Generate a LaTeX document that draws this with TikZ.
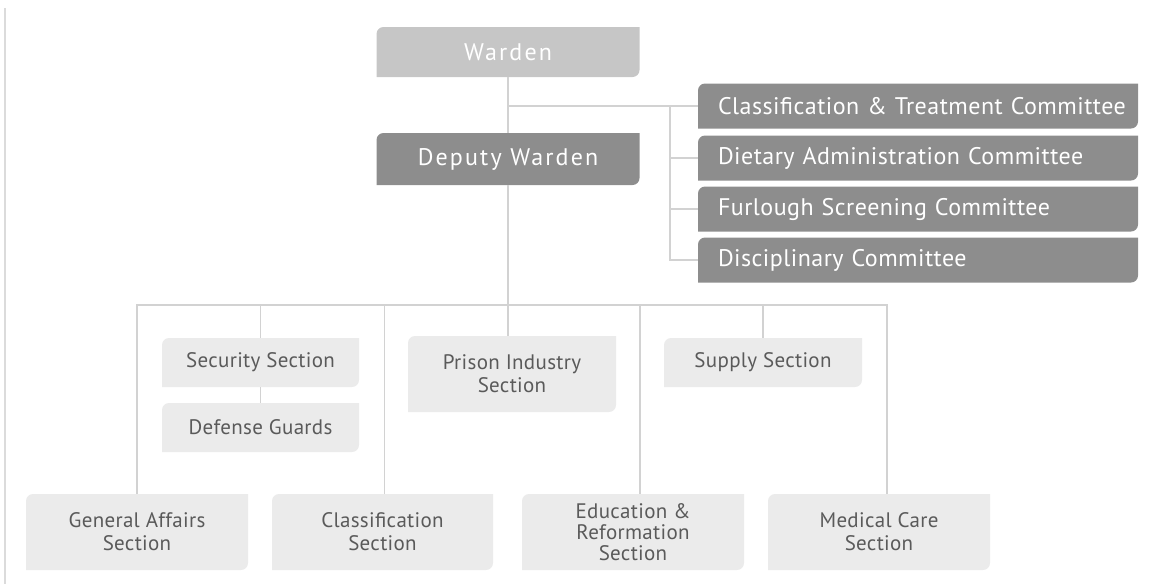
\documentclass[tikz,border=0pt]{standalone}
\usepackage{fontspec}
\setmainfont{PT Sans}
\usetikzlibrary{positioning,calc}

\definecolor{lightbox}{HTML}{EBEBEB}
\definecolor{midbox}{HTML}{C6C6C6}
\definecolor{darkbox}{HTML}{8D8D8D}
\definecolor{lighttext}{HTML}{5A5A5A}
\definecolor{linkgray}{HTML}{D2D2D2}

\tikzset{
  cutbox/.style={inner sep=0pt, align=center,
    path picture={\fill[#1] (path picture bounding box.south west)
      -- ([yshift=-7pt]path picture bounding box.north west)
      arc[start angle=180,end angle=90,radius=7pt]
      -- (path picture bounding box.north east)
      -- ([yshift=7pt]path picture bounding box.south east)
      arc[start angle=0,end angle=-90,radius=7pt] -- cycle;}},
  headbox/.style={cutbox=#1, text=white,
    font=\fontsize{24}{28}\selectfont\addfontfeatures{LetterSpace=9},
    minimum width=263pt},
  committee/.style={cutbox=darkbox, text=white,
    font=\fontsize{24}{28}\selectfont\addfontfeatures{LetterSpace=2},
    minimum width=440pt, minimum height=45pt, text width=432pt, align=left,
    execute at begin node={\hspace*{16pt}}},
  section/.style={cutbox=lightbox, text=lighttext,
    font=\fontsize{21}{23}\selectfont\addfontfeatures{LetterSpace=1.5}},
  link/.style={draw=linkgray, line width=1.6pt}
}

\begin{document}
\begin{tikzpicture}[x=1pt,y=1pt]
  \useasboundingbox (0,0) rectangle (1149,-584);
  % frame edge
  \draw[draw=linkgray!80, line width=1.2pt] (5,-8) -- (5,-584);

  % Top
  \node[headbox=midbox, minimum height=50pt] (warden) at (508,-52) {Warden};
  \node[headbox=darkbox, minimum height=52pt] (deputy) at (508,-159) {Deputy Warden};

  % Committees
  \node[committee] (comA) at (918,-106) {Classification \& Treatment Committee};
  \node[committee] (comB) at (918,-158) {Dietary Administration Committee};
  \node[committee] (comC) at (918,-209) {Furlough Screening Committee};
  \node[committee] (comD) at (918,-260) {Disciplinary Committee};

  % Sections
  \node[section, minimum width=197pt, minimum height=49pt] (security) at (260.5,-362.5) {Security Section};
  \node[section, minimum width=197pt, minimum height=49pt] (defense) at (260.5,-427.5) {Defense Guards};
  \node[section, minimum width=208pt, minimum height=76pt] (prison) at (512,-374) {Prison Industry\\Section};
  \node[section, minimum width=198pt, minimum height=49pt] (supply) at (763,-362.5) {Supply Section};

  \node[section, minimum width=222pt, minimum height=76pt] (general) at (137,-532) {General Affairs\\Section};
  \node[section, minimum width=221pt, minimum height=76pt] (classif) at (382.5,-532) {Classification\\Section};
  \node[section, minimum width=222pt, minimum height=76pt, font=\fontsize{21}{21}\selectfont\addfontfeatures{LetterSpace=1.5}] (educ) at (633,-532) {Education \&\\Reformation\\Section};
  \node[section, minimum width=222pt, minimum height=76pt] (medical) at (879,-532) {Medical Care\\Section};

  % Connectors
  \coordinate (hub) at (508,-106);
  \coordinate (jc) at (670,-106);
  \coordinate (bus) at (508,-305);
  \draw[link] (warden.south) -- (deputy.north);
  \draw[link] (hub) -- (jc);
  \foreach \c in {comA,comB,comC,comD}
    \draw[link] (jc) |- (\c.west);
  \draw[link] (deputy.south) -- ([xshift=-4pt]prison.north);
  \draw[link] (general.north) |- (bus) -| ([xshift=8pt]medical.north);
  \draw[link] (security.north) |- (bus);
  \draw[link] ([xshift=2pt]classif.north) |- (bus);
  \draw[link] ([xshift=7pt]educ.north) |- (bus);
  \draw[link] (supply.north) |- (bus);
  \draw[link] (security.south) -- (defense.north);
\end{tikzpicture}
\end{document}
